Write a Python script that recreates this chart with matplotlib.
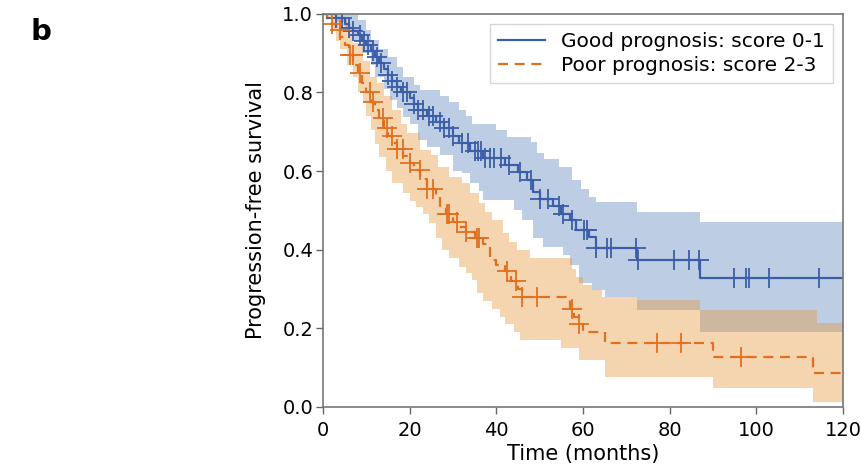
import numpy as np
import matplotlib
matplotlib.use("Agg")
import matplotlib.pyplot as plt

plt.rcParams['font.family'] = ['DejaVu Sans']

# Good prognosis (score 0-1): KM step times and survival
good_t = [0, 3, 5, 6, 7, 8, 9, 10, 11, 12, 13, 14, 15, 16, 17, 18, 20, 21, 22, 24, 26, 28, 30,
          31.5, 34, 37, 42, 45, 47, 48.5, 50, 53, 55, 57, 58.5, 61.5, 63, 72.5, 87]
good_s = [1.0, 0.99, 0.975, 0.965, 0.955, 0.945, 0.93, 0.92, 0.905, 0.89, 0.875, 0.86, 0.845,
          0.83, 0.815, 0.80, 0.785, 0.77, 0.755, 0.74, 0.725, 0.71, 0.69, 0.672, 0.65, 0.632,
          0.615, 0.598, 0.578, 0.548, 0.53, 0.51, 0.49, 0.475, 0.45, 0.433, 0.405, 0.374, 0.328]
good_up_t = [0, 8, 10, 11, 13, 15, 17, 18.5, 21, 22.5, 27, 29, 31.5, 33, 34.5, 40, 42.5, 48,
             49.5, 51, 54.6, 57.6, 59.5, 61.5, 63, 72.5, 87]
good_up = [1.0, 0.985, 0.96, 0.934, 0.91, 0.89, 0.865, 0.84, 0.82, 0.807, 0.79, 0.775, 0.756,
           0.74, 0.72, 0.705, 0.687, 0.675, 0.646, 0.63, 0.61, 0.578, 0.555, 0.534, 0.522,
           0.496, 0.47]
good_lo_t = [0, 3, 5, 7, 9, 11, 12, 14, 15.5, 17, 18.5, 20, 22, 24, 27, 30, 32, 34, 36, 37, 44,
             46, 48.4, 50.7, 55.3, 57, 59, 62, 65, 72.5, 87]
good_lo = [1.0, 0.98, 0.96, 0.93, 0.9, 0.87, 0.84, 0.81, 0.78, 0.76, 0.738, 0.72, 0.68, 0.66,
           0.64, 0.60, 0.595, 0.57, 0.55, 0.527, 0.50, 0.476, 0.43, 0.407, 0.387, 0.36, 0.315,
           0.298, 0.28, 0.247, 0.19]
good_cens = [3, 4.5, 6, 7, 8.5, 9.5, 10.5, 11.5, 12.5, 13.5, 15, 16, 17, 18.5, 19.5, 21, 22, 23,
             24.5, 25.5, 27, 28, 29, 30, 32, 33.5, 35, 35.8, 36.5, 37.5, 38.5, 39.5, 41, 43, 45.5,
             48, 50, 52, 54.6, 55.3, 57.6, 60.3, 61, 63, 65.6, 66.5, 72.3, 72.6, 81, 84.5, 86.8,
             94.9, 97.6, 98.3, 103, 114.4]

# Poor prognosis (score 2-3)
poor_t = [0, 1, 2, 3, 4, 5, 6, 7, 8, 9, 10, 11, 12, 13, 14, 15, 16, 17, 18.5, 20, 21, 22.5, 24,
          26, 27, 28.5, 30, 31.5, 33, 35, 37, 38.5, 40, 42, 43.5, 45, 46, 57, 58, 59, 60, 65,
          90, 113]
poor_s = [1.0, 0.99, 0.975, 0.96, 0.94, 0.92, 0.895, 0.87, 0.85, 0.825, 0.80, 0.775, 0.755,
          0.735, 0.71, 0.69, 0.672, 0.655, 0.638, 0.62, 0.603, 0.58, 0.555, 0.535, 0.51, 0.49,
          0.47, 0.458, 0.445, 0.43, 0.415, 0.375, 0.36, 0.345, 0.32, 0.30, 0.28, 0.25,
          0.23, 0.21, 0.19, 0.163, 0.127, 0.086]
poor_up_t = [0, 3, 5.5, 7, 9.2, 10.8, 12.4, 14, 16, 18, 19.3, 22.3, 25, 26.5, 29, 32, 34, 36,
             37.5, 39, 41.5, 43, 44.7, 47.7, 57.5, 58.5, 60, 62, 64.5, 72.5, 87, 114]
poor_up = [1.0, 0.99, 0.96, 0.926, 0.88, 0.84, 0.824, 0.79, 0.756, 0.72, 0.697, 0.654, 0.64,
           0.61, 0.585, 0.57, 0.545, 0.519, 0.495, 0.476, 0.443, 0.42, 0.40, 0.378, 0.35, 0.33,
           0.31, 0.298, 0.28, 0.272, 0.247, 0.214]
poor_lo_t = [0, 1, 2, 3, 4, 5.5, 7, 8, 9.2, 10, 11, 12, 13, 14.5, 16, 18.4, 20, 21.6, 23, 24.6,
             26, 27.6, 29, 31.5, 33, 34.5, 35.5, 37, 39, 40.8, 42, 44, 45.4, 55, 59, 65, 90, 113]
poor_lo = [1.0, 0.99, 0.96, 0.93, 0.91, 0.87, 0.84, 0.80, 0.773, 0.74, 0.705, 0.67, 0.636, 0.60,
           0.57, 0.545, 0.525, 0.509, 0.49, 0.468, 0.43, 0.40, 0.38, 0.356, 0.34, 0.323, 0.29,
           0.27, 0.25, 0.229, 0.21, 0.19, 0.17, 0.15, 0.12, 0.076, 0.048, 0.013]
poor_cens = [2, 3.9, 6.2, 6.9, 8.5, 10.8, 11.5, 13.8, 14.7, 15.9, 17, 18.4, 20, 22.3, 24, 25.3,
             28.6, 29, 30.9, 33, 35.5, 36, 42.4, 44.6, 46, 49.3, 57.6, 59, 77, 82.7, 96.5]

labels = ["Good prognosis: score 0-1", "Poor prognosis: score 2-3"]
t_end = 120

blue_line = "#3b5ea8"
blue_fill = "#5c82bb"
orange_line = "#e0701f"
orange_fill = "#e6963a"


def ext(t, v):
    # extend step data to the end of follow-up
    return np.append(t, t_end), np.append(v, v[-1])


def at(t, v, q):
    idx = np.searchsorted(t, q, side="right") - 1
    return np.asarray(v)[idx]


fig = plt.figure(figsize=(8.61, 4.76), dpi=100)
ax = fig.add_axes([0.375, 0.145, 0.604, 0.826])

# confidence bands
for (ut, uv, lt, lv, col) in [(good_up_t, good_up, good_lo_t, good_lo, blue_fill),
                              (poor_up_t, poor_up, poor_lo_t, poor_lo, orange_fill)]:
    grid = np.unique(np.concatenate([ut, lt, [t_end]]))
    ax.fill_between(grid, at(ut, uv, grid), at(lt, lv, grid), step="post",
                    color=col, alpha=0.4, linewidth=0)

gt, gs = ext(good_t, good_s)
pt, ps = ext(poor_t, poor_s)
ax.step(gt, gs, where="post", color=blue_line, lw=1.6, label=labels[0])
ax.step(pt, ps, where="post", color=orange_line, lw=1.6, ls=(0, (4.5, 3)), label=labels[1])

ax.plot(good_cens, at(good_t, good_s, good_cens), ls="none", marker="+", ms=15,
        mew=1.3, color=blue_line)
ax.plot(poor_cens, at(poor_t, poor_s, poor_cens), ls="none", marker="+", ms=15,
        mew=1.3, color=orange_line)

ax.set_xlim(0, 120)
ax.set_ylim(0, 1.0)
ax.set_xticks(np.arange(0, 121, 20))
ax.set_yticks(np.arange(0, 1.01, 0.2))
ax.set_yticklabels([f"{v:.1f}" for v in np.arange(0, 1.01, 0.2)])
ax.tick_params(direction="out", length=5, width=1, color="#666666", labelsize=14, pad=2)
ax.tick_params(axis="x", pad=5)
for sp in ax.spines.values():
    sp.set_color("#777777")
    sp.set_linewidth(1.2)

ax.set_xlabel("Time (months)", fontsize=15, labelpad=3)
ax.set_ylabel("Progression-free survival", fontsize=15, labelpad=12)

leg = ax.legend(loc="upper right", fontsize=14.5, frameon=True, fancybox=False,
                borderaxespad=0.5, handlelength=2.3, labelspacing=0.25,
                borderpad=0.4, handletextpad=0.8)
leg.get_frame().set_edgecolor("#cccccc")
leg.get_frame().set_linewidth(1.0)

fig.text(0.035, 0.915, "b", fontsize=21, fontweight="bold")

fig.savefig("out.png", dpi=100)
